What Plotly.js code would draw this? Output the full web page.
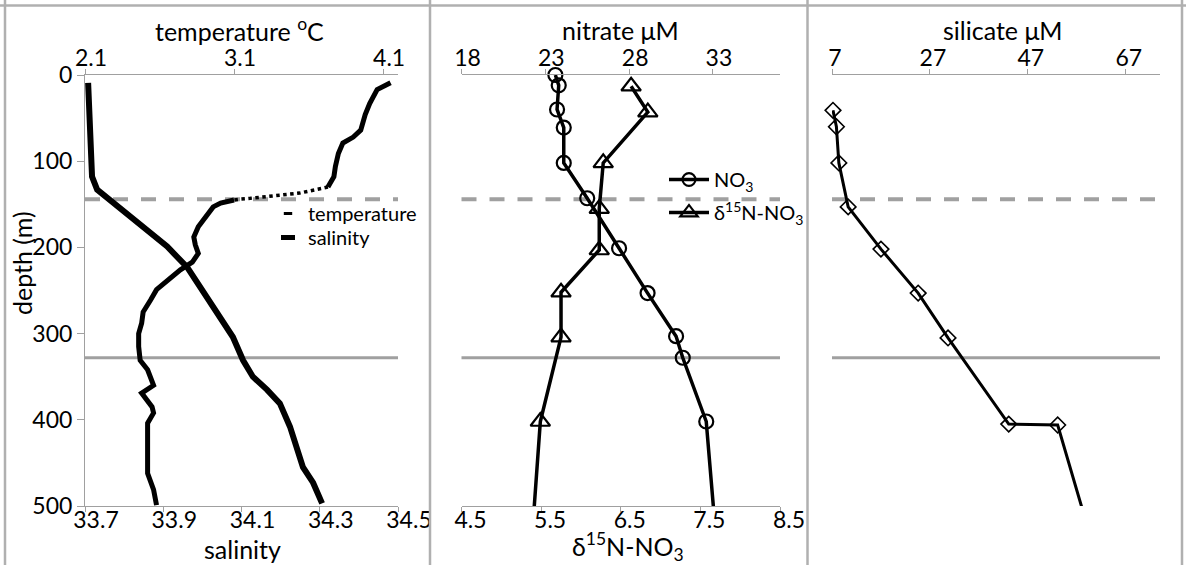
<!DOCTYPE html>
<html>
<head>
<meta charset="utf-8">
<script src="https://cdn.plot.ly/plotly-3.0.1.min.js"></script>
<style>html,body{margin:0;padding:0;background:#fff;} #chart{width:1186px;height:565px;}</style>
</head>
<body>
<div id="chart"></div>
<script>
// ---- Panel 1: CTD profile (depth in m) ----
const tempDepth = [9, 17, 33, 46, 64, 72, 79, 91, 106, 118, 130, 137, 139, 141.5, 143, 144, 145, 148.5, 153, 165, 176, 188, 197, 207, 217, 226, 238, 249, 261, 275, 288, 300, 315, 331, 342, 354, 360, 369, 377, 385, 392, 404, 412, 423, 447, 462, 481, 499];
const tempValue = [4.15, 4.06, 4.01, 3.98, 3.95, 3.90, 3.83, 3.80, 3.78, 3.77, 3.73, 3.54, 3.43, 3.32, 3.21, 3.14, 3.10, 3.01, 2.96, 2.91, 2.86, 2.83, 2.84, 2.86, 2.82, 2.74, 2.65, 2.58, 2.54, 2.49, 2.48, 2.46, 2.46, 2.47, 2.52, 2.55, 2.56, 2.48, 2.52, 2.55, 2.56, 2.52, 2.52, 2.52, 2.52, 2.52, 2.56, 2.58];
const tempGradientTop = 130;     // start of the sparsely sampled (dotted) part
const tempGradientBottom = 145;  // end of the dotted part
const salDepth = [9, 64, 118, 133, 145, 160, 180, 199, 223, 246, 273, 304, 331, 350, 365, 381, 408, 435, 455, 473, 497];
const salValue = [33.708, 33.713, 33.718, 33.731, 33.764, 33.807, 33.858, 33.910, 33.961, 33.994, 34.037, 34.078, 34.104, 34.129, 34.165, 34.198, 34.224, 34.242, 34.257, 34.283, 34.306];

// ---- Panel 2: nitrate and its isotope ----
const no3Depth = [0, 12, 40, 61, 102, 143, 201, 253, 303, 328, 402, 750];
const no3Value = [23.6, 23.8, 23.7, 24.1, 24.1, 25.5, 27.4, 29.1, 30.8, 31.2, 32.6, 34.1];
const d15nDepth = [13, 43, 102, 155, 203, 252, 304, 402, 750];
const d15nValue = [6.63, 6.84, 6.28, 6.23, 6.23, 5.75, 5.75, 5.49, 5.22];

// ---- Panel 3: silicate ----
const siDepth = [41, 60, 102, 153, 202, 253, 305, 405, 406, 600];
const siValue = [7.2, 7.9, 8.4, 10.3, 17.0, 24.6, 30.7, 43.1, 53.1, 63.1];

// ---- reference depths (dashed = 144 m, solid = 328 m) ----
const refDepths = [144, 328];
const refDash = ['15px,13px', 'solid'];

// ---- axis ranges / ticks ----
const depthRange = [500, 0];
const tempRange = [2.1, 4.2], tempTick0 = 2.1, tempStep = 1;
const salRange = [33.7, 34.5], salTick0 = 33.7, salStep = 0.2;
const no3Range = [18, 37], no3Tick0 = 18, no3Step = 5;
const d15nRange = [4.5, 8.5], d15nTick0 = 4.5, d15nStep = 1;
const siRange = [7, 74], siTick0 = 7, siStep = 20;

// ---- texts ----
const labels = {
  temp: 'temperature <sup>o</sup>C',
  sal: 'salinity',
  depth: 'depth (m)',
  no3: 'nitrate μM',
  d15n: 'δ<sup>15</sup>N-NO<sub>3</sub>',
  si: 'silicate μM',
  tempLegend: 'temperature',
  salLegend: 'salinity',
  no3Legend: 'NO<sub>3</sub>',
  d15nLegend: 'δ<sup>15</sup>N-NO<sub>3</sub>'
};

const W = 1186, H = 565;
const px = v => v / W;
const py = v => (H - v) / H;
const yDom = [py(506), py(75)];
const gray = '#a0a0a0';
const frame = '#b0b0b0';
const FAM = 'Lato, sans-serif';
const tickFont = {family: FAM, size: 23, color: '#000'};
const titleFont = {family: FAM, size: 25, color: '#000'};
const legFont = {family: FAM, size: 20, color: '#000'};

const iTop = tempDepth.indexOf(tempGradientTop);
const iBot = tempDepth.indexOf(tempGradientBottom);
const inView = d => d <= depthRange[0];

const traces = [
  {x: tempValue.slice(0, iTop + 1), y: tempDepth.slice(0, iTop + 1), xaxis: 'x', yaxis: 'y', mode: 'lines',
   line: {color: '#000', width: 5}, showlegend: false},
  {x: tempValue.slice(iTop, iBot + 1), y: tempDepth.slice(iTop, iBot + 1), xaxis: 'x', yaxis: 'y', mode: 'lines',
   line: {color: '#000', width: 3.5, dash: 'dot'}, showlegend: false},
  {x: tempValue.slice(iBot), y: tempDepth.slice(iBot), xaxis: 'x', yaxis: 'y', mode: 'lines',
   line: {color: '#000', width: 5}, showlegend: false},
  {x: salValue, y: salDepth, xaxis: 'x2', yaxis: 'y', mode: 'lines',
   line: {color: '#000', width: 6}, showlegend: false},
  // legend entries of panel 1 (marker symbols only)
  {x: [null], y: [null], xaxis: 'x', yaxis: 'y', mode: 'markers', name: labels.tempLegend, legend: 'legend',
   marker: {symbol: 'line-ew', size: 6, opacity: 1, line: {color: '#000', width: 3}}},
  {x: [null], y: [null], xaxis: 'x', yaxis: 'y', mode: 'markers', name: labels.salLegend, legend: 'legend3',
   marker: {symbol: 'line-ew', size: 10, opacity: 1, line: {color: '#000', width: 5}}},
  // panel 2
  {x: no3Value, y: no3Depth, xaxis: 'x3', yaxis: 'y2', mode: 'lines+markers', name: labels.no3Legend, legend: 'legend2',
   line: {color: '#000', width: 3.5}, cliponaxis: false,
   marker: {symbol: 'circle-open', size: no3Depth.map(d => inView(d) ? 14 : 0), opacity: 1, color: '#000',
            line: {width: 2.2, color: '#000'}}},
  {x: d15nValue, y: d15nDepth, xaxis: 'x4', yaxis: 'y2', mode: 'lines+markers', name: labels.d15nLegend, legend: 'legend4',
   line: {color: '#000', width: 3.5}, cliponaxis: false,
   marker: {symbol: 'triangle-up-open', size: d15nDepth.map(d => inView(d) ? 17 : 0), opacity: 1, color: '#000',
            line: {width: 2.2, color: '#000'}}},
  // panel 3
  {x: siValue, y: siDepth, xaxis: 'x5', yaxis: 'y3', mode: 'lines+markers', showlegend: false,
   line: {color: '#000', width: 3}, cliponaxis: false,
   marker: {symbol: 'diamond-open', size: siDepth.map(d => inView(d) ? 12 : 0), opacity: 1, color: '#000',
            line: {width: 1.6, color: '#000'}}}
];

function xax(domain, range, tick0, dtick, fmt, side, anchor, shift, extra) {
  return Object.assign({
    domain: domain, range: range, tick0: tick0, dtick: dtick, tickformat: fmt, side: side, anchor: anchor,
    ticks: 'outside', ticklen: 5, tickcolor: gray, tickwidth: 1, showline: true, linecolor: gray, linewidth: 1,
    showgrid: false, zeroline: false, tickfont: tickFont, automargin: false, fixedrange: true,
    ticklabelstandoff: side === 'top' ? -6 : -12, ticklabelshift: shift
  }, extra || {});
}
function yax(anchor, visible) {
  return {
    domain: yDom, range: depthRange, anchor: anchor, tick0: 0, dtick: 100, ticks: visible ? 'outside' : '',
    ticklen: 7, tickcolor: gray, showline: visible, linecolor: gray, linewidth: 1, showticklabels: visible,
    showgrid: false, zeroline: false, tickfont: tickFont, automargin: false, fixedrange: true
  };
}

const shapes = [];
[['x', 'y'], ['x3', 'y2'], ['x5', 'y3']].forEach(([xr, yr]) => {
  refDepths.forEach((d, i) => {
    shapes.push({type: 'line', layer: 'below', xref: xr + ' domain', x0: 0, x1: 1, yref: yr, y0: d, y1: d,
      line: {color: gray, width: i === 0 ? 4 : 3, dash: refDash[i]}});
  });
});
// table frame
shapes.push({type: 'line', xref: 'paper', yref: 'paper', x0: 0, x1: 1, y0: py(5.5), y1: py(5.5), line: {color: frame, width: 2.5}});
[5, 430, 807.5, 1182].forEach(v => {
  shapes.push({type: 'line', xref: 'paper', yref: 'paper', x0: px(v), x1: px(v), y0: 0, y1: 1, line: {color: frame, width: 2.5}});
});

function ann(text, x, y, angle) {
  return {text: text, xref: 'paper', yref: 'paper', x: px(x), y: py(y), textangle: angle || 0,
    showarrow: false, font: titleFont, xanchor: 'center', yanchor: 'middle'};
}
function leg(x, y, w) {
  return {x: px(x), y: py(y), xanchor: 'left', yanchor: 'top', bgcolor: 'rgba(0,0,0,0)',
    font: legFont, itemwidth: w || 30, tracegroupgap: 0};
}

const layout = {
  width: W, height: H, margin: {l: 0, r: 0, t: 0, b: 0},
  paper_bgcolor: '#fff', plot_bgcolor: 'rgba(0,0,0,0)',
  font: {family: FAM, size: 21, color: '#000'},
  xaxis: xax([px(85), px(398)], tempRange, tempTick0, tempStep, '.1f', 'top', 'y', 6),
  xaxis2: xax([px(85), px(398)], salRange, salTick0, salStep, '.1f', 'bottom', 'y', 11, {overlaying: 'x'}),
  xaxis3: xax([px(461.5), px(780)], no3Range, no3Tick0, no3Step, 'd', 'top', 'y2', 6),
  xaxis4: xax([px(461.5), px(780)], d15nRange, d15nTick0, d15nStep, '.1f', 'bottom', 'y2', 9, {overlaying: 'x3'}),
  xaxis5: xax([px(832), px(1160)], siRange, siTick0, siStep, 'd', 'top', 'y3', 3),
  yaxis: yax('x', true),
  yaxis2: yax('x3', false),
  yaxis3: yax('x5', false),
  shapes: shapes,
  annotations: [
    ann(labels.temp, 239, 29),
    ann(labels.sal, 242, 549),
    ann(labels.depth, 22, 263, -90),
    ann(labels.no3, 620, 30),
    ann(labels.d15n, 628, 546),
    ann(labels.si, 1003, 30)
  ],
  legend: leg(268, 194),
  legend3: leg(268, 218),
  legend2: leg(664, 160, 40),
  legend4: leg(664, 193, 40),
  showlegend: true
};

Plotly.newPlot('chart', traces, layout, {staticPlot: true, displayModeBar: false});
</script>
</body>
</html>
